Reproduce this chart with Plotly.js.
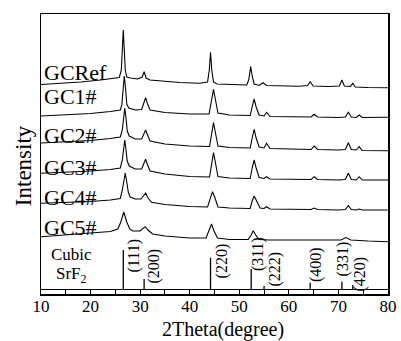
<!DOCTYPE html>
<html>
<head>
<meta charset="utf-8">
<script src="https://cdn.plot.ly/plotly-3.0.1.min.js"></script>
<style>html,body{margin:0;padding:0;background:#fff;}#chart{width:401px;height:341px;}</style>
</head>
<body>
<div id="chart"></div>
<script>
// 2θ positions and stacked intensities (arbitrary units, offsets included)
const thetaRef = [10,14,18,22,24.5,25.8,26.2,26.45,26.6,26.75,27.0,27.3,28,29.5,30.4,30.8,31.2,32,35,38,42,43.6,43.95,44.2,44.45,44.8,45.5,48,51.5,51.9,52.3,52.6,53.0,54.0,54.8,55.5,58,62,63.8,64.3,64.9,68,70.2,70.7,71.2,72.4,72.9,73.4,76,80];
const intRef = [209.5,210.5,212,214,215.5,216.5,224,249,264,249,224,217,216,215,217,222.3,216,214,212.5,211.5,210.7,212,224,241.7,224,212,210,209.5,209,214,227.3,218,210,208.5,211.3,208.5,208,207.8,208.5,212.3,208,207.5,208,214,208,207.5,210.7,207,206.5,206.3];

const theta1 = [10,15,20,24,26,26.3,26.55,26.8,27.05,27.3,27.7,29,30.3,30.7,31.1,31.5,32,35,40,43.9,44.4,44.8,45.2,45.7,48,52.2,52.6,53.0,53.4,54,55,55.5,56.2,60,64.5,65.1,65.8,70,71.4,72.0,72.6,73.6,74.2,74.8,80];
const int1 = [178,179,180.5,182.5,184,189,206,218,206,190,186,184,184.5,190,196.3,190,184,181.5,180,180,194,204.7,194,181,179,178.5,187,195,187,179,178,181.7,177.5,177,177,179.7,177,176.5,177,181.7,177,176.5,179,176.5,176.7];

const theta2 = [10,15,20,24,26,26.4,26.65,26.9,27.15,27.4,27.8,29,30.3,30.7,31.1,31.5,32,35,40,44,44.4,44.8,45.2,45.7,48,52.2,52.6,53.0,53.4,54,55,55.5,56.2,60,64.5,65.1,65.8,70,71.4,72.0,72.6,73.6,74.2,74.8,80];
const int2 = [151,152,153.5,155.5,157,164,176,186,176,163,158,155,155,160,164,159,153,150,148,147.5,161,171.3,161,148,146.5,146,156,164.7,156,147,146,150.7,145.5,145,144.5,148,144.5,144,144.5,151.3,144.5,144,147.3,143.5,143.3];

const theta3 = [10,15,20,24,26,26.4,26.65,26.9,27.15,27.4,27.8,29,30.3,30.7,31.1,31.5,32,35,40,44,44.4,44.8,45.2,45.7,48,52.2,52.6,53.0,53.4,54,55,55.5,56.2,60,64.5,65.1,65.8,70,71.4,72.0,72.6,73.6,74.2,74.8,80];
const int3 = [120.7,121.5,123,124.5,126,134,144,154,144,133,128,125,125,130,134.7,129,123,120,117.5,117,131,141.3,131,117.5,116,115.5,126,134,126,116.5,115.5,117.3,115,114.5,114.5,117.3,114.5,114,114.5,120.7,114.5,114,117.3,114,114];

const theta4 = [10,15,20,24,26,26.4,26.7,27.0,27.3,27.6,28,29,30.2,30.7,31.1,31.6,32.3,35,40,43.6,44.1,44.6,45.1,45.7,48,52.2,52.6,53.0,53.5,54.2,55,55.5,56.2,60,64.5,65.1,65.8,70,71.4,72.0,72.6,73.6,74.2,74.8,80];
const int4 = [90.7,91.5,92.5,94,95.5,104,114,121,112,102,97,95,95,98,101,96,91.7,89.5,87.5,87,96,102.3,96,87,86,85.5,93,98,93,86,85.5,87.3,85,84.5,84.5,86,84.5,84,84.5,88.3,84.5,84,85,84,84];

const theta5 = [10,15,20,24,25.5,26.1,26.7,27.3,27.9,28.5,30,30.5,31,31.6,32.5,35,40,43.3,43.9,44.4,44.9,45.6,48,51.8,52.4,52.8,53.3,54,56,60,65,70.5,71.5,72.5,76,80];
const int5 = [57.3,59,60.5,62.5,65,72,82,72,65,63,63,65.5,67.3,64,60,58,56,56,63,70,63,56,54.5,54.5,59,63.3,59,54.5,54,54,53.5,54,56.5,54,53,52.3];

const sampleNames = ["GCRef","GC1#","GC2#","GC3#","GC4#","GC5#"];
const sampleLabelY = [221.5,198,158.5,126.5,96.5,66.5];

// Cubic SrF2 reference pattern
const refPeaks = [26.6,30.8,44.2,52.4,55.0,64.3,70.7,72.9];
const refTop = [44,15,36.3,25,8,11.3,12.3,9];
const refBase = 4.5;
const refHkl = ["(111)","(200)","(220)","(311)","(222)","(400)","(331)","(420)"];
const hklX = [28.56,32.6,46.5,53.8,57.2,65.5,70.9,74.15];
const hklY = [37.5,27.5,33.5,40,25.5,29,35.5,19.5];

const xTitle = "2Theta(degree)";
const yTitle = "Intensity";

const xs = [thetaRef,theta1,theta2,theta3,theta4,theta5];
const ys = [intRef,int1,int2,int3,int4,int5];

const traces = xs.map((x,i)=>({
  type:'scatter', mode:'lines', x:x, y:ys[i], name:sampleNames[i],
  line:{color:'#000', width:1.1}, hoverinfo:'skip'
}));

const sx=[], sy=[];
refPeaks.forEach((p,i)=>{ sx.push(p,p,null); sy.push(refBase,refTop[i],null); });
traces.push({type:'scatter',mode:'lines',x:sx,y:sy,name:'Cubic SrF2',line:{color:'#000',width:1.3},hoverinfo:'skip'});

const font = "Liberation Serif, Times New Roman, serif";
const annotations = [];
sampleNames.forEach((n,i)=>annotations.push({
  x:10.2, y:sampleLabelY[i], xref:'x', yref:'y', text:n, showarrow:false,
  xanchor:'left', yanchor:'middle', font:{family:font,size:22,color:'#000'}
}));
refHkl.forEach((h,i)=>annotations.push({
  x:hklX[i], y:hklY[i], xref:'x', yref:'y', text:h, showarrow:false, textangle:-90,
  xanchor:'center', yanchor:'middle', font:{family:font,size:16,color:'#000'}
}));
annotations.push({x:16.25,y:40,xref:'x',yref:'y',text:'Cubic',showarrow:false,xanchor:'center',yanchor:'middle',font:{family:font,size:17,color:'#000'}});
annotations.push({x:16.25,y:19,xref:'x',yref:'y',text:'SrF<sub>2</sub>',showarrow:false,xanchor:'center',yanchor:'middle',font:{family:font,size:17,color:'#000'}});
// axis titles placed as in the reference (offset from plot centre)
annotations.push({x:0.524,y:-0.126,xref:'paper',yref:'paper',text:xTitle,showarrow:false,xanchor:'center',yanchor:'middle',font:{family:font,size:20,color:'#000'}});
annotations.push({x:-0.052,y:0.46,xref:'paper',yref:'paper',text:yTitle,showarrow:false,textangle:-90,xanchor:'center',yanchor:'middle',font:{family:font,size:23,color:'#000'}});

const layout = {
  width:401, height:341,
  margin:{l:41,r:13,t:14,b:47},
  paper_bgcolor:'#fff', plot_bgcolor:'#fff',
  showlegend:false,
  xaxis:{
    range:[10,80], dtick:10, tick0:10, ticks:'inside', ticklen:5, tickwidth:1, tickcolor:'#000',
    minor:{dtick:5, ticks:'inside', ticklen:5, tickwidth:1, tickcolor:'#000'},
    showline:true, mirror:true, linecolor:'#000', linewidth:1.5, showgrid:false, zeroline:false,
    tickfont:{family:font,size:17,color:'#000'}, ticklabelstandoff:-4
  },
  yaxis:{
    range:[0,280], showticklabels:false, ticks:'', showline:true, mirror:true,
    linecolor:'#000', linewidth:1.5, showgrid:false, zeroline:false
  },
  shapes:[{type:'line', xref:'paper', yref:'y', x0:0, x1:1, y0:refBase, y1:refBase, line:{color:'#000',width:1}}],
  annotations:annotations
};

Plotly.newPlot('chart', traces, layout, {staticPlot:true, displayModeBar:false});
</script>
</body>
</html>
